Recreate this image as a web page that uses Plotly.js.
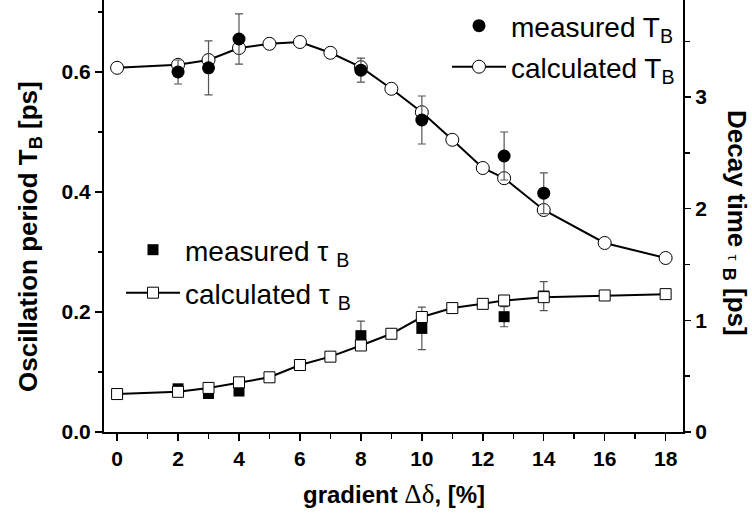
<!DOCTYPE html>
<html>
<head>
<meta charset="utf-8">
<script src="https://cdn.plot.ly/plotly-3.0.1.min.js"></script>
<style>html,body{margin:0;padding:0;background:#fff;}</style>
</head>
<body>
<div id="chart" style="width:752px;height:518px;"></div>
<script>
// calculated values
const xCalc = [0, 2, 3, 4, 5, 6, 7, 8, 9, 10, 11, 12, 12.7, 14, 16, 18];
const periodCalc = [0.607, 0.612, 0.620, 0.640, 0.647, 0.650, 0.632, 0.608, 0.572, 0.533, 0.487, 0.440, 0.423, 0.370, 0.315, 0.290];
const decayCalc = [0.34, 0.36, 0.395, 0.445, 0.49, 0.60, 0.675, 0.775, 0.88, 1.03, 1.11, 1.148, 1.178, 1.208, 1.223, 1.235];
// measured values
const xMeas = [2, 3, 4, 8, 10, 12.7, 14];
const periodMeas = [0.600, 0.607, 0.655, 0.603, 0.520, 0.460, 0.398];
const periodErr = [0.020, 0.045, 0.042, 0.020, 0.040, 0.040, 0.034];
const decayMeas = [0.387, 0.345, 0.367, 0.863, 0.928, 1.033, 1.218];
const decayErr = [0, 0, 0, 0.131, 0.19, 0.09, 0.13];
// tick labels
const xTicks = [0, 2, 4, 6, 8, 10, 12, 14, 16, 18];
const leftTicks = [0, 0.2, 0.4, 0.6];
const rightTicks = [0, 1, 2, 3];

const FONT = 'Liberation Sans, Arial, sans-serif';
const tickFont = {family: FONT, size: 21, color: '#000', weight: 'bold'};
const legFont = {family: FONT, size: 28, color: '#000'};
const ERRC = '#555';

const traces = [
  {x: xCalc, y: periodCalc, type: 'scatter', mode: 'lines+markers', name: 'calculated T<sub>B</sub>',
   line: {color: '#000', width: 2}, marker: {symbol: 'circle', size: 13, color: '#fff', line: {color: '#000', width: 1}},
   legend: 'legend2'},
  {x: xMeas, y: periodMeas, type: 'scatter', mode: 'markers', name: 'measured T<sub>B</sub>',
   marker: {symbol: 'circle', size: 13, color: '#000'},
   error_y: {type: 'data', array: periodErr, visible: true, color: ERRC, thickness: 1.2, width: 4},
   legend: 'legend'},
  {x: xMeas, y: decayMeas, yaxis: 'y2', type: 'scatter', mode: 'markers', name: 'measured τ <sub>B</sub>',
   marker: {symbol: 'square', size: 11, color: '#000'},
   error_y: {type: 'data', array: decayErr, visible: true, color: ERRC, thickness: 1.2, width: 4},
   legend: 'legend3'},
  {x: xCalc, y: decayCalc, yaxis: 'y2', type: 'scatter', mode: 'lines+markers', name: 'calculated τ <sub>B</sub>',
   line: {color: '#000', width: 2}, marker: {symbol: 'square', size: 11, color: '#fff', line: {color: '#000', width: 1}},
   legend: 'legend4'}
];

const L = 104, R = 683, T = 0, B = 432;
const W = R - L, H = B - T;
function px(p) { return (p - L) / W; }
function py(p) { return (B - p) / H; }

function leg(xp, yp) {
  return {x: px(xp), y: py(yp), xanchor: 'left', yanchor: 'middle', bgcolor: 'rgba(0,0,0,0)',
          borderwidth: 0, font: legFont, itemwidth: 54};
}

const xr = [-0.43, 18.57];
const layout = {
  width: 752, height: 518,
  margin: {l: L, r: 752 - R, t: T, b: 518 - B, pad: 0},
  paper_bgcolor: '#fff', plot_bgcolor: '#fff',
  showlegend: true,
  xaxis: {range: xr, tickvals: xTicks, ticktext: xTicks.map(String), ticks: 'outside', ticklen: 7, tickwidth: 1.5,
          tickcolor: '#000', showline: true, linewidth: 2, linecolor: '#000', showgrid: false, zeroline: false,
          tickfont: tickFont, minor: {dtick: 1, tick0: 0, ticks: 'outside', ticklen: 5, tickwidth: 1.5, tickcolor: '#000', showgrid: false}},
  xaxis2: {range: xr, overlaying: 'x', side: 'top', dtick: 1, tick0: 0, ticks: 'inside', ticklen: 5, tickwidth: 1.5,
           tickcolor: '#000', showticklabels: false, showline: false, showgrid: false, zeroline: false},
  yaxis: {range: [0, 0.72], tickvals: leftTicks, ticktext: leftTicks.map(v => v.toFixed(1)), ticks: 'outside', ticklen: 7, tickwidth: 1.5,
          tickcolor: '#000', showline: true, linewidth: 2, linecolor: '#000', showgrid: false, zeroline: false,
          tickfont: tickFont, minor: {dtick: 0.1, tick0: 0, ticks: 'outside', ticklen: 4, tickwidth: 1.5, tickcolor: '#000', showgrid: false}},
  yaxis2: {range: [0, 3.87], overlaying: 'y', side: 'right', tickvals: rightTicks, ticktext: rightTicks.map(String), ticks: 'outside', ticklen: 6, tickwidth: 1.5,
           tickcolor: '#000', showline: true, linewidth: 2, linecolor: '#000', showgrid: false, zeroline: false,
           tickfont: tickFont, minor: {dtick: 0.5, tick0: 0, ticks: 'outside', ticklen: 5, tickwidth: 1.5, tickcolor: '#000', showgrid: false}},
  legend: leg(447, 26),
  legend2: leg(447, 67),
  legend3: leg(121, 250),
  legend4: leg(121, 293),
  annotations: [
    {xref: 'paper', yref: 'paper', x: px(394), y: py(494), xanchor: 'center', yanchor: 'middle', showarrow: false,
     text: "<b>gradient </b><span style='font-family:Liberation Serif,serif;font-size:27px'>Δδ</span><b>, [%]</b>",
     font: {family: FONT, size: 24, color: '#000'}},
    {xref: 'paper', yref: 'paper', x: px(29), y: py(237), xanchor: 'center', yanchor: 'middle', showarrow: false, textangle: -90,
     text: '<b>Oscillation period T<sub>B</sub> [ps]</b>', font: {family: FONT, size: 26, color: '#000'}},
    {xref: 'paper', yref: 'paper', x: px(736), y: py(223), xanchor: 'center', yanchor: 'middle', showarrow: false, textangle: 90,
     text: "<b>Decay time </b><span style='font-size:15px'>τ</span> <b><sub>B</sub> [ps]</b>", font: {family: FONT, size: 26, color: '#000'}}
  ]
};

Plotly.newPlot('chart', traces, layout, {displayModeBar: false, staticPlot: true});
</script>
</body>
</html>
